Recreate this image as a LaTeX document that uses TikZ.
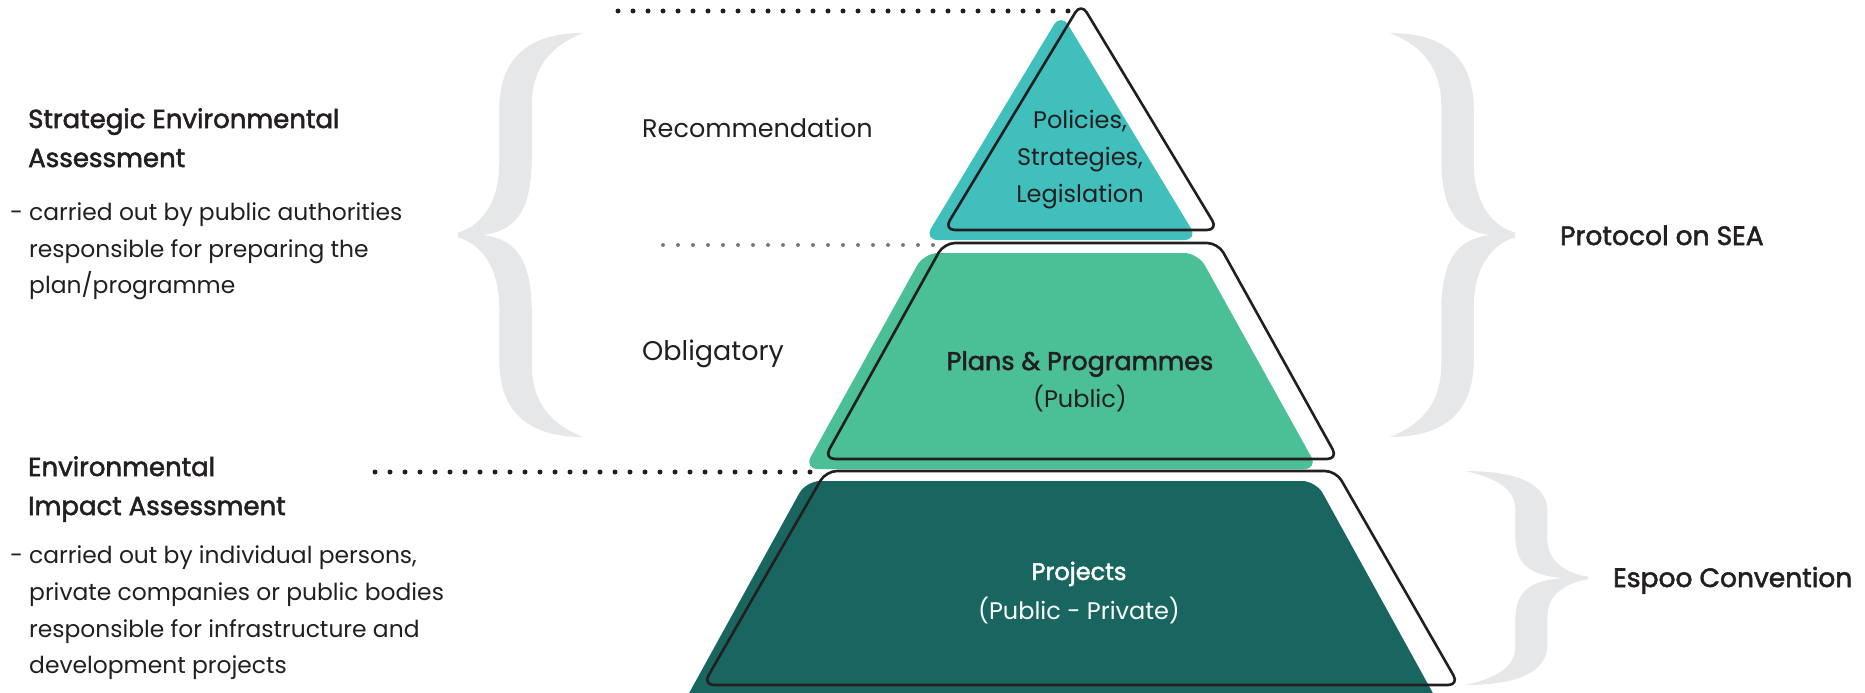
\documentclass[tikz,border=0pt]{standalone}
\usepackage{fontspec}
\usetikzlibrary{calc}
\setmainfont{Poppins}
\newfontfamily\medfont{Poppins}[FakeBold=2]
\definecolor{ink}{HTML}{231F20}
\definecolor{teal}{HTML}{40BFBC}
\definecolor{midgreen}{HTML}{4BBF96}
\definecolor{darkgreen}{HTML}{196660}
\definecolor{bracegray}{HTML}{E6E7E8}
\definecolor{dotgray}{HTML}{7A7A7A}
\newcommand{\fHead}{\medfont\fontsize{26}{30}\selectfont}
\newcommand{\fBody}{\fontsize{23.4}{30}\selectfont}
\newcommand{\fRec}{\fontsize{25.5}{30}\selectfont}
\newcommand{\fMid}{\fontsize{27}{30}\selectfont}
\newcommand{\fSide}{\medfont\fontsize{26.5}{30}\selectfont}
\newcommand{\fPyr}{\fontsize{24}{30}\selectfont}
\newcommand{\fPyrB}{\medfont\fontsize{25.5}{30}\selectfont}
\newcommand{\fProj}{\medfont\fontsize{24}{30}\selectfont}
\tikzset{
  txt/.style={inner sep=0pt, anchor=base west, text=ink},
  ctr/.style={inner sep=0pt, anchor=base, text=ink},
  dots/.style={line width=5pt, line cap=round, dash pattern=on 0pt off 15pt, draw=ink},
  graydots/.style={line width=4pt, line cap=round, dash pattern=on 0pt off 15pt, draw=dotgray},
  outline/.style={draw=ink, line width=2.6pt, rounded corners=11pt, line join=round},
  layer/.style={rounded corners=14pt},
  curlybrace/.pic={
    \fill[bracegray] (0,-1)
      .. controls (0.35,-1) and (0.67,-0.92) .. (0.67,-0.62)
      -- (0.67,-0.36)
      .. controls (0.67,-0.14) and (0.84,-0.04) .. (1,-0.012)
      -- (1,0.012)
      .. controls (0.84,0.04) and (0.67,0.14) .. (0.67,0.36)
      -- (0.67,0.62)
      .. controls (0.67,0.92) and (0.35,1) .. (0,1)
      .. controls (0.2,0.95) and (0.41,0.86) .. (0.41,0.64)
      -- (0.41,0.36)
      .. controls (0.42,0.1) and (0.56,0.02) .. (0.8,0)
      .. controls (0.56,-0.02) and (0.42,-0.1) .. (0.41,-0.36)
      -- (0.41,-0.64)
      .. controls (0.41,-0.86) and (0.2,-0.95) .. (0,-1) -- cycle;
  }
}
\begin{document}
\begin{tikzpicture}[x=1pt,y=-1pt]
\useasboundingbox (0,0) rectangle (1865,693);
\clip (0,0) rectangle (1865,693);

% braces
\pic[xscale=-125, yscale=202] at (583,235) {curlybrace};
\pic[xscale=125, yscale=202] at (1390,235) {curlybrace};
\pic[xscale=123, yscale=107] at (1465,578) {curlybrace};

% outline corner coordinates
\coordinate (tA) at (1081,3);
\coordinate (tL) at (944,230);
\coordinate (tR) at (1218,230);
\coordinate (mTL) at (944,243);
\coordinate (mTR) at (1218,243);
\coordinate (mBL) at (824,459);
\coordinate (mBR) at (1338,459);
\coordinate (bTL) at (826,471);
\coordinate (bTR) at (1336,471);
\coordinate (bBL) at (703,685);
\coordinate (bBR) at (1459,685);

% fill corner coordinates (outline shifted left and down)
\foreach \c in {tA,tL,tR,mTL,mTR,mBL,mBR,bTL,bTR}{
  \coordinate (f\c) at ($(\c)+(-20,10)$);
}
\coordinate (fbBL) at ($(bBL)+(-26,30)$);
\coordinate (fbBR) at ($(bBR)+(-14,30)$);

% dotted lines
\coordinate (d1) at (618,11);
\coordinate (d1e) at (1076,11);
\coordinate (d2) at (663,245);
\coordinate (d2e) at (937,245);
\coordinate (d3) at (375,472);
\coordinate (d3e) at (822,472);
\draw[dots] (d1) -- (d1e);
\draw[graydots] (d2) -- (d2e);
\draw[dots] (d3) -- (d3e);

% layer fills
\fill[teal, layer] (ftA) -- (ftR) -- (ftL) -- cycle;
\fill[midgreen, layer] (fmTL) -- (fmTR) -- (fmBR) -- (fmBL) -- cycle;
\fill[darkgreen, layer] (fbTL) -- (fbTR) -- (fbBR) -- (fbBL) -- cycle;

% outlines
\draw[outline] (tA) -- (tR) -- (tL) -- cycle;
\draw[outline] (mTL) -- (mTR) -- (mBR) -- (mBL) -- cycle;
\draw[outline] (bTL) -- (bTR) -- (bBR) -- (bBL) -- cycle;

% pyramid texts
\node[ctr, font=\fPyr] (pol) at (1080,128) {Policies,};
\node[ctr, font=\fPyr] (str) at (1080,165) {Strategies,};
\node[ctr, font=\fPyr] (leg) at (1080,202) {Legislation};
\node[ctr, font=\fPyrB] (plans) at (1080,370) {Plans \& Programmes};
\node[ctr, font=\fPyr] (pub) at (1080,407) {(Public)};
\node[ctr, font=\fProj, text=white] (proj) at (1079,580) {Projects};
\node[ctr, font=\fPyr, text=white] (pubpriv) at (1079,619) {(Public - Private)};

% middle labels
\node[txt, font=\fRec] (rec) at (642,137) {Recommendation};
\node[txt, font=\fMid] (obl) at (642,360) {Obligatory};

% right labels
\node[txt, font=\fSide] (prot) at (1560,245) {Protocol on SEA};
\node[txt, font=\fSide] (espoo) at (1613,587) {Espoo Convention};

% left texts SEA
\node[txt, font=\fHead] (sea1) at (28,128) {Strategic Environmental};
\node[txt, font=\fHead] (sea2) at (28,167) {Assessment};
\node[txt, font=\fBody] (seadash) at (10,220) {-};
\node[txt, font=\fBody] (seab1) at (29,220) {carried out by public authorities};
\node[txt, font=\fBody] (seab2) at (29,257) {responsible for preparing the};
\node[txt, font=\fBody] (seab3) at (29,293) {plan/programme};

% left texts EIA
\node[txt, font=\fHead] (eia1) at (28,476) {Environmental};
\node[txt, font=\fHead] (eia2) at (28,515) {Impact Assessment};
\node[txt, font=\fBody] (eiadash) at (10,563) {-};
\node[txt, font=\fBody] (eiab1) at (29,563) {carried out by individual persons,};
\node[txt, font=\fBody] (eiab2) at (29,600) {private companies or public bodies};
\node[txt, font=\fBody] (eiab3) at (29,637) {responsible for infrastructure and};
\node[txt, font=\fBody] (eiab4) at (29,673) {development projects};
\end{tikzpicture}
\end{document}
